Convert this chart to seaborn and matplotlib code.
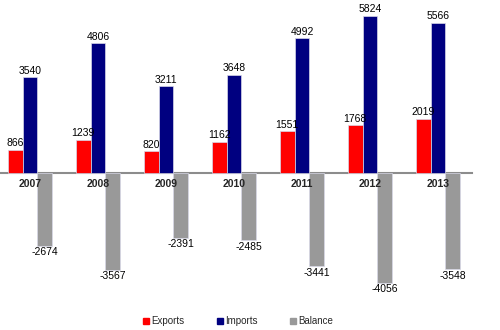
import matplotlib
matplotlib.use("Agg")
import matplotlib.pyplot as plt
import seaborn as sns
import pandas as pd
import numpy as np

years = ["2007", "2008", "2009", "2010", "2011", "2012", "2013"]
exports = [866, 1239, 820, 1162, 1551, 1768, 2019]
imports = [3540, 4806, 3211, 3648, 4992, 5824, 5566]
balance = [-2674, -3567, -2391, -2485, -3441, -4056, -3548]
series = ["Exports", "Imports", "Balance"]
colors = ["#FF0000", "#000080", "#999999"]

sns.set_style("white")
plt.rcParams["font.family"] = ["Liberation Sans", "DejaVu Sans"]

df = pd.DataFrame({
    "year": years * 3,
    "value": exports + imports + balance,
    "series": ["Exports"] * 7 + ["Imports"] * 7 + ["Balance"] * 7,
})

fig = plt.figure(figsize=(5.0, 3.3), dpi=100)
ax = fig.add_axes([0.0, 0.0818, 0.944, 0.918])

sns.barplot(data=df, x="year", y="value", hue="series", hue_order=series,
            palette=colors, width=0.66, ax=ax, errorbar=None,
            saturation=1, edgecolor="#d8d8e8", linewidth=0.5, legend=False)

for p in ax.patches:
    p.set_zorder(1)

ax.set_xlim(-0.441, 6.5)
ax.set_ylim(-4800, 6400)

for cont in ax.containers:
    labels = ax.bar_label(cont, fmt="%d", fontsize=7.5, padding=1, color="black")
    for t in labels:
        t.set_zorder(10)

# axis line through zero, year labels under it
for s in ["top", "right", "left"]:
    ax.spines[s].set_visible(False)
ax.spines["bottom"].set_position(("data", 0))
ax.spines["bottom"].set_color("#8c8c8c")
ax.spines["bottom"].set_linewidth(1.5)
ax.spines["bottom"].set_zorder(0.5)
ax.xaxis.set_zorder(5)
ax.set_yticks([])
ax.set_xticks(range(len(years)))
ax.set_xticklabels(years, fontsize=7.5, fontweight="bold")
ax.tick_params(axis="x", which="major", length=0, pad=4)
ax.set_xticks(np.arange(0.5, len(years), 1.0), minor=True)
ax.tick_params(axis="x", which="minor", direction="inout", length=4,
               width=0.8, color="#606060")
ax.set_xlabel("")
ax.set_ylabel("")

handles = [plt.Rectangle((0, 0), 1, 1, color=c) for c in colors]
fig.legend(handles, series, loc="lower center", bbox_to_anchor=(0.476, -0.015),
           ncol=3, frameon=False, fontsize=7, handlelength=0.6,
           handleheight=0.6, handletextpad=0.2, columnspacing=3.4)

fig.savefig("out.png", dpi=100)
